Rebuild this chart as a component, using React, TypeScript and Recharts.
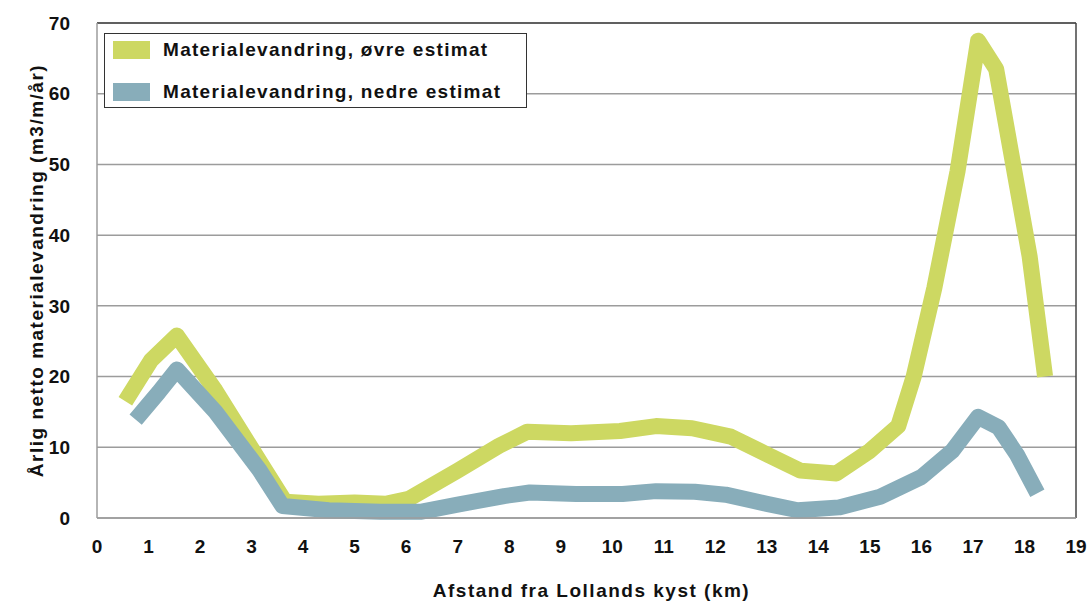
import {
  LineChart,
  Line,
  XAxis,
  YAxis,
  CartesianGrid,
  ReferenceLine,
} from "recharts";

// øvre estimat (upper)
const upperKm = [
  0.55, 1.05, 1.55, 2.3, 3.2, 3.65, 4.3, 5.0, 5.6, 6.05, 7.0, 7.8, 8.35, 9.2,
  10.15, 10.85, 11.55, 12.3, 13.0, 13.65, 14.35, 15.0, 15.55, 15.85, 16.25,
  16.7, 17.1, 17.45, 18.1, 18.4,
];
const upperVal = [
  16.5, 22.3, 25.8, 18, 7.5, 2.3, 2.0, 2.2, 2.0, 2.7, 6.7, 10.2, 12.2, 12.0,
  12.3, 13.0, 12.7, 11.5, 9.0, 6.7, 6.3, 9.5, 13, 20, 32.5, 49, 67.5, 63.5, 37,
  20,
];

// nedre estimat (lower)
const lowerKm = [
  0.75, 1.2, 1.55, 2.3, 3.15, 3.6, 4.5, 5.5, 6.3, 7.0, 7.9, 8.4, 9.3, 10.2,
  10.85, 11.6, 12.2, 13.0, 13.6, 14.4, 15.2, 16.0, 16.6, 17.1, 17.5, 17.85,
  18.25,
];
const lowerVal = [
  13.9, 17.8, 21.0, 15.0, 6.8, 1.7, 1.1, 0.9, 0.9, 1.9, 3.1, 3.6, 3.4, 3.4, 3.8,
  3.7, 3.3, 2.0, 1.1, 1.5, 3.0, 5.8, 9.5, 14.3, 12.8, 9, 3.5,
];

const seriesNames = [
  "Materialevandring, øvre estimat",
  "Materialevandring, nedre estimat",
];

const xTicks = Array.from({ length: 20 }, (_, i) => i);
const yTicks = [0, 10, 20, 30, 40, 50, 60, 70];

const UPPER = "#cdd862";
const LOWER = "#88adba";
const FONT = "'Liberation Sans', Arial, sans-serif";

const upper = upperKm.map((x, i) => ({ x, y: upperVal[i] }));
const lower = lowerKm.map((x, i) => ({ x, y: lowerVal[i] }));

function LegendBox() {
  const items = [
    { color: UPPER, label: seriesNames[0] },
    { color: LOWER, label: seriesNames[1] },
  ];
  return (
    <div
      style={{
        position: "absolute",
        left: 104,
        top: 33,
        width: 423,
        height: 75,
        border: "1.5px solid #333",
        background: "#fff",
        boxSizing: "border-box",
        padding: "1.5px 0 0 8px",
        fontFamily: FONT,
        fontWeight: "bold",
        fontSize: 19,
        letterSpacing: 1.3,
        color: "#111",
      }}
    >
      {items.map((it, i) => (
        <div
          key={it.label}
          style={{
            display: "flex",
            alignItems: "center",
            height: 28,
            marginTop: i === 0 ? 0 : 14,
            whiteSpace: "nowrap",
          }}
        >
          <span
            style={{
              display: "inline-block",
              width: 37,
              height: 18,
              background: it.color,
              marginRight: 13,
            }}
          />
          {it.label}
        </div>
      ))}
    </div>
  );
}

export default function App() {
  return (
    <div
      style={{
        position: "absolute",
        left: 0,
        top: 0,
        width: 1091,
        height: 601,
        background: "#fff",
      }}
    >
      <LineChart
        width={1091}
        height={601}
        margin={{ top: 23, right: 15, bottom: 0, left: 0 }}
      >
        <CartesianGrid
          horizontal
          vertical={false}
          stroke="#9c9c9c"
          strokeWidth={1.5}
        />
        <XAxis
          type="number"
          dataKey="x"
          domain={[0, 19]}
          ticks={xTicks}
          interval={0}
          height={83}
          tickLine={false}
          tickSize={0}
          tickMargin={22}
          axisLine={{ stroke: "#9c9c9c", strokeWidth: 1.5 }}
          tick={{ fill: "#111", fontSize: 19, fontWeight: "bold", fontFamily: FONT }}
          label={{
            value: "Afstand fra Lollands kyst (km)",
            position: "insideBottom",
            offset: 4,
            dx: 5,
            fill: "#111",
            fontSize: 19,
            fontWeight: "bold",
            fontFamily: FONT,
            letterSpacing: 1.5,
          }}
        />
        <YAxis
          type="number"
          domain={[0, 70]}
          ticks={yTicks}
          width={97}
          tickLine={false}
          tickSize={0}
          tickMargin={27}
          axisLine={{ stroke: "#9c9c9c", strokeWidth: 1.5 }}
          tick={{ fill: "#111", fontSize: 19, fontWeight: "bold", fontFamily: FONT }}
          label={{
            value: "Årlig netto materialevandring (m3/m/år)",
            angle: -90,
            position: "insideLeft",
            offset: 26,
            dx: 10,
            style: { textAnchor: "middle" },
            fill: "#111",
            fontSize: 19,
            fontWeight: "bold",
            fontFamily: FONT,
            letterSpacing: 1.5,
          }}
        />
        <ReferenceLine y={70} stroke="#444" strokeWidth={1.5} />
        <ReferenceLine x={19} stroke="#444" strokeWidth={1.5} />
        <Line
          data={upper}
          dataKey="y"
          name={seriesNames[0]}
          type="linear"
          stroke={UPPER}
          strokeWidth={16}
          strokeLinejoin="round"
          dot={false}
          activeDot={false}
          isAnimationActive={false}
        />
        <Line
          data={lower}
          dataKey="y"
          name={seriesNames[1]}
          type="linear"
          stroke={LOWER}
          strokeWidth={16}
          strokeLinejoin="round"
          dot={false}
          activeDot={false}
          isAnimationActive={false}
        />
      </LineChart>
      <LegendBox />
    </div>
  );
}
